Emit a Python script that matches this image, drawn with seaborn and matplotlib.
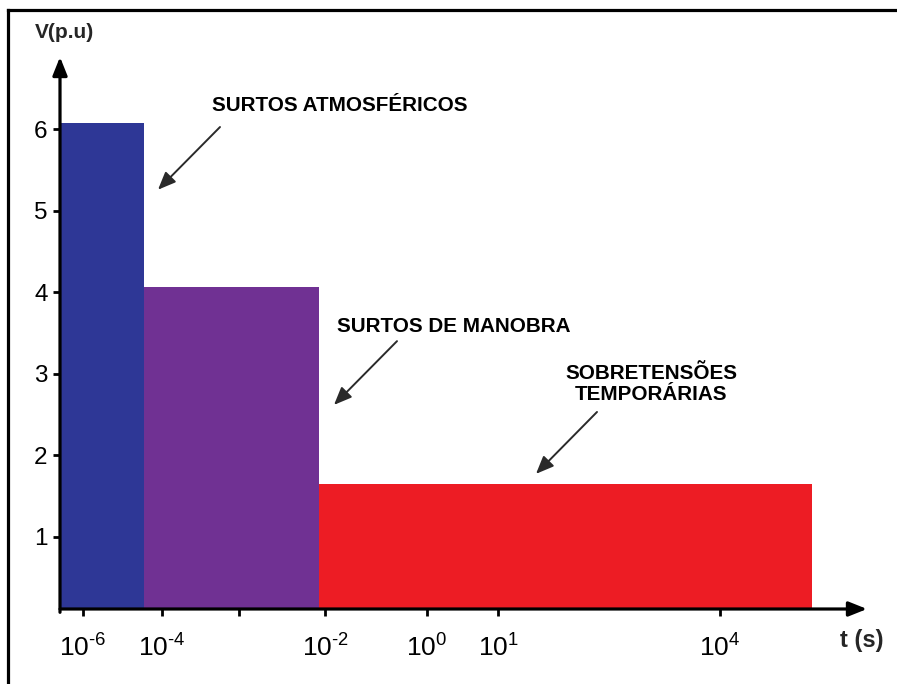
import matplotlib
matplotlib.use("Agg")
import matplotlib.pyplot as plt
from matplotlib.lines import Line2D
import numpy as np
import pandas as pd
import seaborn as sns

# Overvoltage classes: magnitude (p.u.) and extent along the time axis
categories = ["SURTOS ATMOSFÉRICOS", "SURTOS DE MANOBRA", "SOBRETENSÕES\nTEMPORÁRIAS"]
v_pu = [6.08, 4.07, 1.65]
t_edges = [0.0, 8.4, 25.9, 75.2]          # band limits along the (non-uniform) time axis
colors = ["#2E3796", "#703193", "#ED1C24"]

# Time axis decades and where each decade sits on the drawn axis
decade_exp = ["-6", "-4", "-2", "0", "1", "4"]
decade_pos = [2.3, 10.2, 26.5, 36.7, 43.8, 66.0]
extra_tick = [17.9]
tick_labels = [rf"$10^{{\text{{{e}}}}}$" for e in decade_exp]

v_ticks = [1, 2, 3, 4, 5, 6]

sns.set_style("white")
plt.rcParams["font.family"] = ["Liberation Sans", "DejaVu Sans"]
plt.rcParams["mathtext.fontset"] = "custom"
plt.rcParams["mathtext.rm"] = "Liberation Sans"
plt.rcParams["mathtext.it"] = "Liberation Sans"

fig = plt.figure(figsize=(8.97, 6.84), dpi=100)
ax = fig.add_axes([60 / 897, 75 / 684, 807 / 897, 552 / 684])

df = pd.DataFrame({
    "mid": [(a + b) / 2 for a, b in zip(t_edges[:-1], t_edges[1:])],
    "v": v_pu,
    "cat": categories,
})
sns.histplot(data=df, x="mid", weights="v", hue="cat", bins=t_edges,
             hue_order=categories, palette=dict(zip(categories, colors)),
             multiple="layer", alpha=1, linewidth=0, legend=False, ax=ax)

ax.set_xlim(0, 80.7)
ax.set_ylim(0.11, 6.89)
ax.set_xlabel("")
ax.set_ylabel("")
for s in ax.spines.values():
    s.set_visible(False)

# axis lines with arrow heads
arrow_kw = dict(arrowstyle="-|>,head_length=0.55,head_width=0.22", lw=2.3,
                color="black", shrinkA=0, shrinkB=0, mutation_scale=20)
ax.annotate("", xy=(1, 0), xytext=(0, 0), xycoords="axes fraction",
            arrowprops=arrow_kw, annotation_clip=False)
ax.annotate("", xy=(0, 1), xytext=(0, -0.006), xycoords="axes fraction",
            arrowprops=arrow_kw, annotation_clip=False)

ax.set_yticks(v_ticks)
ax.set_yticklabels([str(v) for v in v_ticks], fontsize=17.5)
ax.set_xticks(decade_pos + extra_tick)
ax.set_xticklabels(tick_labels + [""] * len(extra_tick), fontsize=19)
ax.tick_params(axis="y", direction="out", length=5, width=2, pad=4, left=True, colors="black")
ax.tick_params(axis="x", direction="out", length=5, width=2, pad=13, bottom=True, colors="black")

# annotations
txt_kw = dict(fontsize=14.9, fontweight="bold", ha="center", va="center",
              color="black", linespacing=1.1)
line_kw = dict(arrowstyle="-|>,head_length=0.6,head_width=0.25", lw=1.4,
               color="#2a2a2a", shrinkA=0, shrinkB=0, mutation_scale=18)
ax.text(28.0, 6.30, categories[0], **txt_kw)
ax.annotate("", xy=(9.8, 5.26), xytext=(16.0, 6.03), arrowprops=line_kw)
ax.text(39.4, 3.575, categories[1], **txt_kw)
ax.annotate("", xy=(27.4, 2.617), xytext=(33.7, 3.40), arrowprops=line_kw)
ax.text(59.1, 2.875, categories[2], **txt_kw)
ax.annotate("", xy=(47.6, 1.77), xytext=(53.7, 2.53), arrowprops=line_kw)

# axis titles
fig.text(64 / 897, 1 - 32 / 684, "V(p.u)", fontsize=15, fontweight="bold",
         ha="center", va="center")
fig.text(862 / 897, 1 - 640 / 684, "t (s)", fontsize=17, fontweight="bold",
         ha="center", va="center")

# outer frame
fig.add_artist(Line2D([8 / 897, 8 / 897], [0, 1 - 10 / 684], transform=fig.transFigure,
                      color="black", lw=2.3, solid_capstyle="projecting"))
fig.add_artist(Line2D([8 / 897, 1], [1 - 10 / 684, 1 - 10 / 684], transform=fig.transFigure,
                      color="black", lw=2.3, solid_capstyle="projecting"))

fig.savefig("out.png", dpi=100)
